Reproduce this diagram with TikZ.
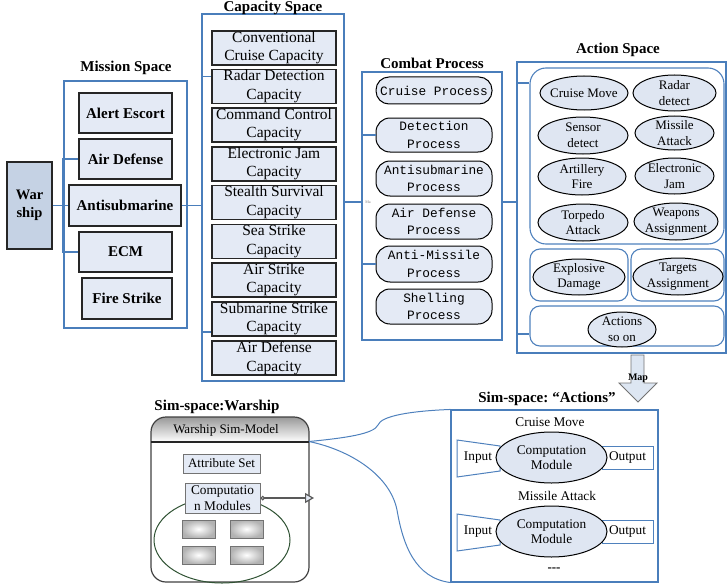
\documentclass[tikz,border=0pt]{standalone}
\usepackage{fontspec}
\setmainfont{Liberation Serif}
\setmonofont{Liberation Mono}
\usetikzlibrary{shapes.geometric,arrows.meta,calc}
\newcommand\setfs[2]{\fontsize{#1}{#2}\selectfont}
\definecolor{spaceblue}{HTML}{4A7EBB}
\definecolor{grpblue}{HTML}{4F81BD}
\definecolor{boxfill}{HTML}{E4EAF5}
\definecolor{warfill}{HTML}{C5D2E4}
\definecolor{actfill}{HTML}{DFE6F2}
\definecolor{arrowfill}{HTML}{DDE6F2}
\definecolor{simgreen}{HTML}{2F5233}
\begin{document}
\begin{tikzpicture}[x=1pt,y=-1pt,
  spacebox/.style={draw=spaceblue,line width=1.1pt,inner sep=0pt},
  title/.style={font=\bfseries\setfs{15}{18},inner sep=0pt},
  conn/.style={draw=spaceblue,line width=1.1pt},
  curve/.style={draw=grpblue,line width=1pt},
  misbox/.style={draw=black!85,line width=1.3pt,fill=boxfill,font=\bfseries\setfs{15}{18},inner sep=0pt,minimum height=40pt},
  capbox/.style={draw=black!85,line width=1.1pt,fill=boxfill,font=\setfs{15.5}{18.5},align=center,inner sep=0pt,minimum width=124pt,minimum height=34pt},
  procbox/.style={draw=black,line width=1pt,fill=boxfill,rounded corners=14pt,font=\ttfamily\setfs{12.8}{17.5},align=center,inner sep=0pt,minimum width=116pt,minimum height=35pt},
  actell/.style={ellipse,draw=black,line width=1pt,fill=actfill,font=\setfs{13}{15.5},align=center,inner sep=-12pt},
  grp/.style={draw=grpblue,line width=1.1pt,rounded corners=10pt,inner sep=0pt},
  smallbox/.style={draw=black!55,line width=1pt,fill=boxfill,inner sep=0pt,font=\setfs{13}{15.5},align=center},
  minibox/.style={draw=black!55,line width=0.8pt,inner color=white,outer color=black!30,minimum width=33pt,minimum height=18pt,inner sep=0pt},
  panellbl/.style={font=\setfs{13.3}{15.5},inner sep=0pt},
  compell/.style={ellipse,draw=black,line width=1pt,fill=actfill,font=\setfs{13.3}{15},align=center,inner sep=-12pt,minimum width=111pt,minimum height=51pt},
  outbox/.style={draw=grpblue,line width=1pt,fill=white,minimum width=51pt,minimum height=23pt,inner sep=0pt,font=\setfs{13.3}{15.5}},
  trap/.style={draw=grpblue,line width=1pt,fill=white}
]
\useasboundingbox (0,0) rectangle (727,583);

% ---------------- Mission space ----------------
\node[spacebox,minimum width=123pt,minimum height=247pt] (missp) at (125.5,204.5) {};
\node[title] (mistitle) at (126,68) {Mission Space};
\node[draw=black!85,line width=1.3pt,fill=warfill,minimum width=45pt,minimum height=87pt,inner sep=0pt,align=center,font=\bfseries\setfs{14.5}{18}] (warship) at (29.5,205.5) {War\\ship};
\node[misbox,minimum width=93pt] (alert) at (125.5,113) {Alert Escort};
\node[misbox,minimum width=93pt] (airdef) at (125.5,159) {Air Defense};
\node[misbox,minimum width=112pt,minimum height=41pt] (antisub) at (125,205.5) {Antisubmarine};
\node[misbox,minimum width=93pt] (ecm) at (125.5,252) {ECM};
\node[misbox,minimum width=90pt,minimum height=41pt] (fire) at (127,298.5) {Fire Strike};

\coordinate (wbend) at (62.5,205.5);
\draw[conn] (warship.east) -- (antisub.west);
\draw[conn] (wbend) |- (airdef.west);
\draw[conn] (wbend) |- (ecm.west);

% ---------------- Capacity space ----------------
\node[spacebox,minimum width=142pt,minimum height=367pt] (capsp) at (273,197.5) {};
\node[title] (captitle) at (273,8) {Capacity Space};
\node[capbox] (conv)   at (274,48)    {Conventional\\Cruise Capacity};
\node[capbox] (radar)  at (274,86.5)  {Radar Detection\\Capacity};
\node[capbox] (cmd)    at (274,125)   {Command Control\\Capacity};
\node[capbox] (ejamc)  at (274,164)   {Electronic Jam\\Capacity};
\node[capbox] (stealth)at (274,202.5) {Stealth Survival\\Capacity};
\node[capbox] (sea)    at (274,241.5) {Sea Strike\\Capacity};
\node[capbox] (air)    at (274,280)   {Air Strike\\Capacity};
\node[capbox] (subs)   at (274,319)   {Submarine Strike\\Capacity};
\node[capbox] (adc)    at (274,358)   {Air Defense\\Capacity};

\coordinate (cbend) at (202,205.5);
\draw[conn] (antisub.east) -- (cbend) |- ([yshift=10pt]radar.west);
\draw[conn] (cbend) |- ([yshift=-13pt]subs.west);

% ---------------- Combat process ----------------
\node[spacebox,minimum width=140pt,minimum height=268pt] (combsp) at (432,206) {};
\node[title] (combtitle) at (432,63) {Combat Process};
\node[procbox,minimum height=27pt,rounded corners=13pt] (cruisep) at (434,90.5) {Cruise Process};
\node[procbox,minimum height=34pt] (detect)  at (434,135)   {Detection\\Process};
\node[procbox] (antisubp) at (434,178.5) {Antisubmarine\\Process};
\node[procbox] (airdefp)  at (434,221.5) {Air Defense\\Process};
\node[procbox,minimum height=36pt] (antimis) at (434,264) {Anti-Missile\\Process};
\node[procbox] (shell)    at (434,306.5) {Shelling\\Process};
\node[font=\setfs{4}{5},text=black!50,inner sep=0pt] (malbl) at (368,202) {Ma};

\coordinate (pbend) at (362,202);
\draw[conn] (capsp.east |- pbend) -- (pbend) |- (detect.west);
\draw[conn] (pbend) |- (antimis.west);

% ---------------- Action space ----------------
\node[spacebox,minimum width=209pt,minimum height=291pt] (actsp) at (621.5,207.5) {};
\node[title] (acttitle) at (618,50) {Action Space};
\node[grp,rounded corners=16pt,minimum width=194pt,minimum height=176pt] (grp1) at (627,156) {};
\node[grp,minimum width=98pt,minimum height=52pt] (grp2) at (579,275) {};
\node[grp,minimum width=93pt,minimum height=52pt] (grp3) at (677.5,275) {};
\node[grp,minimum width=194pt,minimum height=40pt] (grp4) at (627,326) {};

\node[actell,minimum width=88pt,minimum height=34pt] (cmove)   at (584,93)    {Cruise Move};
\node[actell,minimum width=83pt,minimum height=36pt] (radard)  at (674.5,93)  {Radar\\detect};
\node[actell,minimum width=90pt,minimum height=37pt] (sensor)  at (583,135.5) {Sensor\\detect};
\node[actell,minimum width=79pt,minimum height=34pt] (missile) at (674.5,133) {Missile\\Attack};
\node[actell,minimum width=88pt,minimum height=37pt] (artil)   at (582,176.5) {Artillery\\Fire};
\node[actell,minimum width=79pt,minimum height=36pt] (ejam)    at (674.5,176) {Electronic\\Jam};
\node[actell,minimum width=90pt,minimum height=37pt] (torpedo) at (583,222.5) {Torpedo\\Attack};
\node[actell,minimum width=84pt,minimum height=37pt] (weapons) at (676,221.5) {Weapons\\Assignment};
\node[actell,minimum width=92pt,minimum height=36pt] (explos)  at (579,277)   {Explosive\\Damage};
\node[actell,minimum width=90pt,minimum height=37pt] (targets) at (678,276.5) {Targets\\Assignment};
\node[actell,minimum width=68pt,minimum height=35pt] (soon)    at (622,329.5) {Actions\\so on};

\coordinate (abend) at (517,202);
\draw[conn] (combsp.east |- abend) -- (abend) |- ([yshift=73pt]grp1.west);
\draw[conn] (abend) |- ([yshift=-8pt]grp4.west);

% mapping arrow
\draw[draw=black!55,fill=arrowfill,line width=0.9pt]
  (631,355) -- (644,355) -- (644,383) -- (657,383) -- (638,402) -- (619,383) -- (631,383) -- cycle;
\node[font=\bfseries\setfs{10}{12},inner sep=0pt] (maplbl) at (638,378) {Map};

% ---------------- Simulation space: actions ----------------
\node[title] (acttl) at (547,399) {Sim-space:\hspace{4pt}“Actions”};
\node[draw=spaceblue,line width=1.1pt,minimum width=207pt,minimum height=172pt,inner sep=0pt] (actbox) at (554.5,496) {};

\node[panellbl] (lblcm) at (550,422) {Cruise Move};
\draw[trap] (457,440) -- (500,446) -- (500,471) -- (457,477) -- cycle;
\node[outbox] (out1) at (627.5,457.5) {Output};
\node[compell] (comp1) at (551.5,457.5) {Computation\\Module};
\node[panellbl] (in1) at (478,458) {Input};

\node[panellbl] (lblma) at (557,496) {Missile Attack};
\draw[trap] (457,514) -- (500,520) -- (500,545) -- (457,551) -- cycle;
\node[outbox] (out2) at (627.5,531.5) {Output};
\node[compell] (comp2) at (551.5,531.5) {Computation\\Module};
\node[panellbl] (in2) at (478,532) {Input};
\node[font=\bfseries\setfs{13}{15},inner sep=0pt] (more) at (554,570) {-{}-{}-};

% ---------------- Simulation space: warship ----------------
\node[title] (simtitle) at (217,407) {Sim-space:Warship};
\begin{scope}
  \clip[rounded corners=15pt] (151,417) rectangle (309,582);
  \shade[top color=black!40,bottom color=white] (151,417) rectangle (309,442);
\end{scope}
\draw[draw=black!75,line width=1.2pt,rounded corners=15pt] (151,417) rectangle (309,582);
\draw[draw=black!85,line width=1.4pt] (151,442) -- (309,442);
\node[font=\setfs{13}{15},inner sep=0pt] (simhead) at (226,430) {Warship Sim-Model};
\node[smallbox,minimum width=77pt,minimum height=19pt] (attr) at (221.5,463.5) {Attribute Set};
\node[ellipse,draw=simgreen,line width=1pt,minimum width=136pt,minimum height=86pt,inner sep=0pt] (cmgroup) at (222,540) {};
\node[smallbox,minimum width=75pt,minimum height=30pt,font=\setfs{13.3}{15.5}] (compmod) at (222.5,498) {Computatio\\n Modules};
\node[minibox] (m1) at (198.5,529) {};
\node[minibox] (m2) at (246.5,529) {};
\node[minibox] (m3) at (198.5,555) {};
\node[minibox] (m4) at (246.5,555) {};
\coordinate (cmout) at (314,498);
\draw[draw=black!65,line width=1.2pt,{Circle[length=4.5pt,fill=white]}-{Triangle[length=9pt,width=10pt,fill=boxfill]}] (compmod.east) -- (cmout);

% brace-like links from the sim-model header to the action panel
\coordinate (hdrR) at (309,441.5);
\draw[curve] (hdrR) .. controls (345,438) and (374,434) .. (378,425) .. controls (381,416) and (410,411) .. (actbox.north west);
\draw[curve] (hdrR) .. controls (350,450) and (390,475) .. (397,510) .. controls (403,545) and (415,578) .. (actbox.south west);
\end{tikzpicture}
\end{document}
